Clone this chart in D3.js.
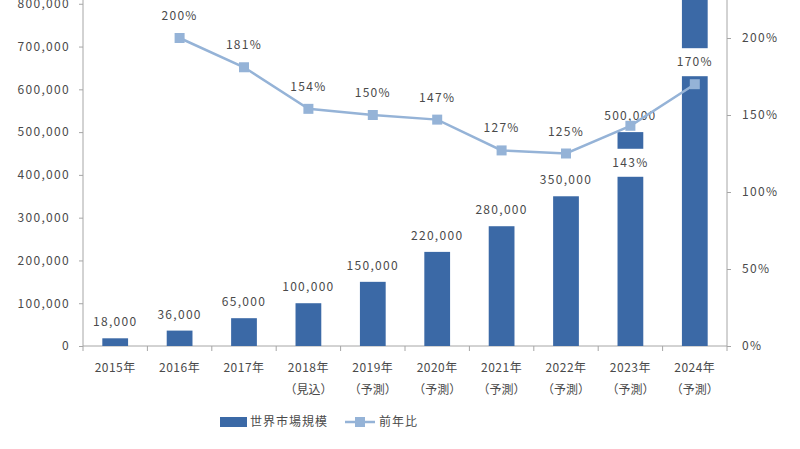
<!DOCTYPE html>
<meta charset="utf-8">
<style>
  body { margin: 0; background: white; }
  text {
    font-family: "Noto Sans CJK JP", "Noto Sans", sans-serif;
    font-size: 12px;
    fill: #4a4a4a;
  }
  .num { letter-spacing: 1.3px; }
  .axis text { letter-spacing: 1.3px; font-size: 12px; }
  .axis path, .axis line { stroke: #a6a6a6; }
</style>
<script src="https://d3js.org/d3.v7.min.js" charset="utf-8"></script>
<body>
<script>

  var w = 800;
  var h = 449;

  // data
  var years = ["2015年", "2016年", "2017年", "2018年", "2019年", "2020年", "2021年", "2022年", "2023年", "2024年"];
  var notes = ["", "", "", "（見込）", "（予測）", "（予測）", "（予測）", "（予測）", "（予測）", "（予測）"];
  var market = [18000, 36000, 65000, 100000, 150000, 220000, 280000, 350000, 500000, 850000];
  var ratio = [null, 200, 181, 154, 150, 147, 127, 125, 143, 170];
  var leftTicks = [0, 100000, 200000, 300000, 400000, 500000, 600000, 700000, 800000];
  var rightTicks = [0, 50, 100, 150, 200];
  var legendNames = ["世界市場規模", "前年比"];

  var barColor = "#3b69a6";
  var lineColor = "#95b3d7";

  var svg = d3.select("body").append("svg")
              .attr("width", w)
              .attr("height", h);

  // plot area runs above the top edge of the picture (0-900,000 / 0-250%)
  var x = d3.scaleBand()
            .domain(years)
            .range([83, 727])
            .paddingInner(0.6)
            .paddingOuter(0.3);

  var y = d3.scaleLinear().domain([0, 900000]).range([346, -39]);
  var yR = d3.scaleLinear().domain([0, 250]).range([346, -39]);

  // axes
  var fmt = d3.format(",");
  svg.append("g")
     .attr("class", "axis")
     .attr("transform", "translate(83,0)")
     .call(d3.axisLeft(y).tickValues(leftTicks).tickFormat(fmt).tickSize(4).tickPadding(9))
     .call(function (g) { g.select(".domain").attr("d", "M0,346V-39"); });

  svg.append("g")
     .attr("class", "axis")
     .attr("transform", "translate(727,0)")
     .call(d3.axisRight(yR).tickValues(rightTicks).tickFormat(function (d) { return d + "%"; }).tickSize(4).tickPadding(11))
     .call(function (g) { g.select(".domain").attr("d", "M0,346V-39"); });

  // x axis line with ticks at category boundaries
  var step = x.step();
  var x0 = 83;
  svg.append("line")
     .attr("x1", x0).attr("x2", 727)
     .attr("y1", y(0)).attr("y2", y(0))
     .attr("stroke", "#a6a6a6");

  svg.selectAll(".xtick")
     .data(d3.range(years.length + 1))
     .enter()
     .append("line")
     .attr("x1", function (d) { return x0 + d * step; })
     .attr("x2", function (d) { return x0 + d * step; })
     .attr("y1", y(0))
     .attr("y2", y(0) + 5)
     .attr("stroke", "#a6a6a6");

  svg.selectAll(".xlab")
     .data(years)
     .enter()
     .append("text")
     .attr("x", function (d) { return x(d) + x.bandwidth() / 2; })
     .attr("y", 372)
     .attr("text-anchor", "middle")
     .style("letter-spacing", "0.5px")
     .text(function (d) { return d; });

  svg.selectAll(".xnote")
     .data(years)
     .enter()
     .append("text")
     .attr("x", function (d) { return x(d) + x.bandwidth() / 2; })
     .attr("y", 394)
     .attr("text-anchor", "middle")
     .text(function (d, i) { return notes[i]; });

  // bars
  svg.selectAll(".bar")
     .data(market)
     .enter()
     .append("rect")
     .attr("x", function (d, i) { return x(years[i]); })
     .attr("width", x.bandwidth())
     .attr("y", function (d) { return y(d); })
     .attr("height", function (d) { return y(0) - y(d); })
     .attr("fill", barColor);

  // value labels (the 2024 one sits above the picture, so it is left out)
  svg.selectAll(".barlab")
     .data(market.filter(function (d) { return y(d) - 12 > 8; }))
     .enter()
     .append("text")
     .attr("class", "num")
     .attr("x", function (d, i) { return x(years[i]) + x.bandwidth() / 2; })
     .attr("y", function (d) { return y(d) - 12; })
     .attr("text-anchor", "middle")
     .text(function (d) { return fmt(d); });

  // line
  var pts = [];
  ratio.forEach(function (r, i) { if (r != null) pts.push({ yr: years[i], r: r, v: market[i] }); });

  var line = d3.line()
               .x(function (d) { return x(d.yr) + x.bandwidth() / 2; })
               .y(function (d) { return yR(d.r); });

  svg.append("path")
     .datum(pts)
     .attr("d", line)
     .attr("fill", "none")
     .attr("stroke", lineColor)
     .attr("stroke-width", 2.5);

  svg.selectAll(".mark")
     .data(pts)
     .enter()
     .append("rect")
     .attr("x", function (d) { return x(d.yr) + x.bandwidth() / 2 - 5; })
     .attr("y", function (d) { return yR(d.r) - 5; })
     .attr("width", 10)
     .attr("height", 10)
     .attr("fill", lineColor);

  // ratio labels; those lying on a bar get a white box (2023 sits under its point)
  function labY(d) { return yR(d.r) + (d.yr == "2023年" ? 37 : -22); }

  var rl = svg.selectAll(".rlab")
              .data(pts)
              .enter()
              .append("g")
              .attr("transform", function (d) {
                return "translate(" + (x(d.yr) + x.bandwidth() / 2) + "," + labY(d) + ")";
              });

  rl.filter(function (d) { return labY(d) > y(d.v); })
    .append("rect")
    .attr("x", -18).attr("y", -14)
    .attr("width", 36).attr("height", 28)
    .attr("fill", "white");

  rl.append("text")
    .attr("class", "num")
    .attr("y", 4)
    .attr("text-anchor", "middle")
    .text(function (d) { return d.r + "%"; });

  // legend
  var lg = svg.append("g").attr("transform", "translate(0,422)");
  lg.append("rect").attr("x", 220).attr("y", -5).attr("width", 27).attr("height", 10).attr("fill", barColor);
  lg.append("text").attr("x", 250).attr("y", 4).style("letter-spacing", "1px").text(legendNames[0]);
  lg.append("line").attr("x1", 345).attr("x2", 375).attr("y1", 0).attr("y2", 0)
    .attr("stroke", lineColor).attr("stroke-width", 2.5);
  lg.append("rect").attr("x", 355).attr("y", -5).attr("width", 10).attr("height", 10).attr("fill", lineColor);
  lg.append("text").attr("x", 379).attr("y", 4).style("letter-spacing", "1px").text(legendNames[1]);

</script>
</body>
